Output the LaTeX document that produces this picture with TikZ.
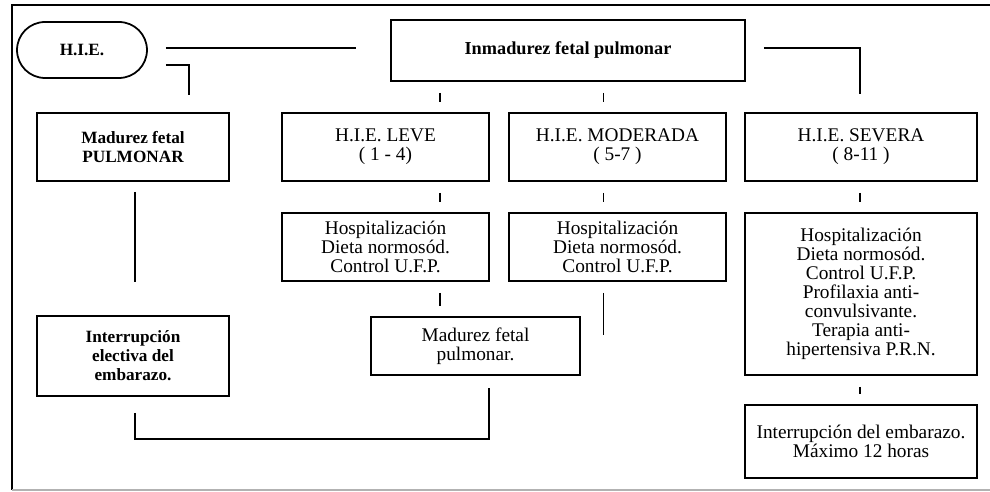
\documentclass[tikz,border=0pt]{standalone}
\usepackage{fontspec}
\setmainfont{Liberation Serif}
\usetikzlibrary{calc,positioning}
\tikzset{
    linea/.style={line width=1pt},
    caja/.style={draw, linea, align=center, inner sep=1pt, font=\fontsize{11}{10.8}\selectfont},
    cajab/.style={caja, font=\bfseries\fontsize{9.8}{10.8}\selectfont},
    tick/.style={linea, shorten <=0.22cm, shorten >=0.2cm}
}
\begin{document}
\begin{tikzpicture}[x=0.02cm,y=-0.02cm]
    \useasboundingbox (0,0) rectangle (990,492);
    \draw[linea] (990,5) -- (12,5) -- (12,490);
    \draw[linea,gray!60] (12,490) -- (990,490);
    \coordinate (C1) at (440,0);
    \coordinate (C2) at (603.5,0);
    \coordinate (C3) at (860,0);
    \node[cajab, rounded corners=0.56cm, minimum width=2.6cm, minimum height=1.12cm] (HIE) at (82,50) {H.I.E.};
    \node[cajab, font=\bfseries\fontsize{10.4}{11}\selectfont, minimum width=7.08cm, minimum height=1.22cm] (INM) at (568,50.5) {Inmadurez fetal pulmonar};
    \node[cajab, minimum width=3.84cm, minimum height=1.36cm] (MFP) at (133,147) {Madurez fetal\\PULMONAR};
    \node[caja, minimum width=4.14cm, minimum height=1.36cm] (LEVE) at (385.5,147) {H.I.E. LEVE\\( 1 - 4)};
    \node[caja, minimum width=4.34cm, minimum height=1.36cm] (MOD) at (617.5,147) {H.I.E. MODERADA\\( 5-7 )};
    \node[caja, minimum width=4.64cm, minimum height=1.36cm] (SEV) at (861,147) {H.I.E. SEVERA\\( 8-11 )};
    \node[caja, minimum width=4.14cm, minimum height=1.36cm] (HL) at (385.5,247) {Hospitalización\\Dieta normosód.\\Control U.F.P.};
    \node[caja, minimum width=4.34cm, minimum height=1.36cm] (HM) at (617.5,247) {Hospitalización\\Dieta normosód.\\Control U.F.P.};
    \node[caja, minimum width=4.64cm, minimum height=3.24cm] (HS) at (861,294) {Hospitalización\\Dieta normosód.\\Control U.F.P.\\Profilaxia anti-\\convulsivante.\\Terapia anti-\\hipertensiva P.R.N.};
    \node[caja, minimum width=4.18cm, minimum height=1.16cm] (MF) at (475.5,346) {Madurez fetal\\pulmonar.};
    \node[cajab, minimum width=3.84cm, minimum height=1.6cm] (IE) at (133,356) {Interrupción\\electiva del\\embarazo.};
    \node[caja, minimum width=4.64cm, minimum height=1.46cm] (IEM) at (861,441.5) {Interrupción del embarazo.\\Máximo 12 horas};
    \draw[linea] ($(HIE.east)+(18,-2)$) -- ($(INM.west)+(-34,-2.5)$);
    \draw[linea] ($(HIE.east)+(18,15)$) -| ($(MFP.north)+(56,-17)$);
    \draw[linea] ($(INM.east)+(18,-2.5)$) -| ($(SEV.north)+(-1,-18)$);
    \draw[tick] (INM.south -| C1) -- (LEVE.north -| C1);
    \draw[tick] (INM.south -| C2) -- (MOD.north -| C2);
    \draw[tick] (LEVE.south -| C1) -- (HL.north -| C1);
    \draw[tick] (MOD.south -| C2) -- (HM.north -| C2);
    \draw[tick] (SEV.south -| C3) -- (HS.north -| C3);
    \draw[tick] (HL.south -| C1) -- (MF.north -| C1);
    \draw[tick] (HS.south -| C3) -- (IEM.north -| C3);
    \draw[linea] ($(HM.south -| C2)+(0,11)$) -- ($(MF.east -| C2)+(0,-11)$);
    \draw[linea] ($(MFP.south)+(2,10)$) -- ($(IE.north)+(2,-33)$);
    \draw[linea] ($(IE.south)+(2,16)$) -- ++(0,26) -| ($(MF.south)+(13.5,12)$);
\end{tikzpicture}
\end{document}
